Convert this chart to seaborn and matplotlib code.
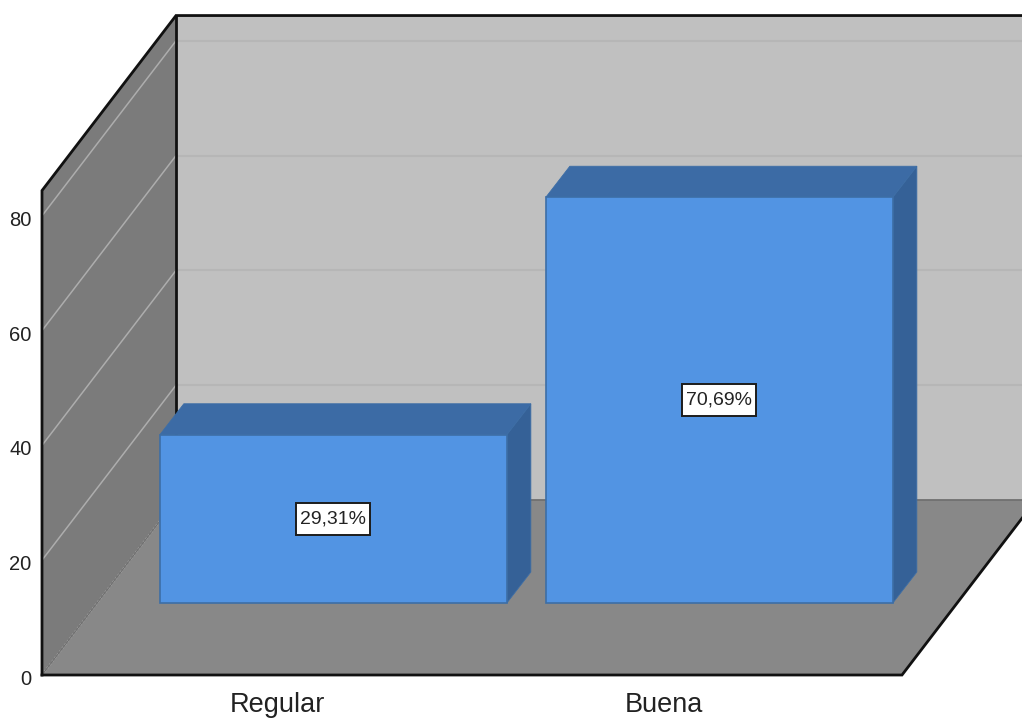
import matplotlib
matplotlib.use("Agg")
import matplotlib.pyplot as plt
from matplotlib.patches import Polygon
from matplotlib.path import Path
from matplotlib.transforms import ScaledTranslation
import seaborn as sns

categories = ["Regular", "Buena"]
percentages = [29.31, 70.69]
y_ticks = [0, 20, 40, 60, 80]

sns.set_theme(style="white")
plt.rcParams["font.family"] = ["Liberation Sans", "DejaVu Sans"]

W, H = 1022, 720
PX_PER_UNIT = 5.74        # vertical pixels per percentage point
Y_MAX = 84.4
CATEGORY_STEP = 386       # pixels between category centres
X_LIM = (-0.611, 1.617)

# Chart box corners in pixels
LEFT, RIGHT, BASE = 42, 902, 675
BOX_DX, BOX_DY = 134, 175  # receding edge of the floor
BAR_SHIFT = (55.5, 72)     # how far the bars sit behind the front plane
BAR_DEPTH = (24, 31)       # extrusion of each bar

WALL_SIDE = "#7b7b7b"
WALL_BACK = "#c0c0c0"
FLOOR = "#888888"
BAR_FRONT = "#5294e3"
BAR_TOP = "#3c6ba5"
BAR_SIDE = "#356197"
BAR_EDGE = "#3d6ea6"
INK = "#111111"


def inset(left, bottom_px, right, height):
    """Axes rectangle from pixel positions measured from the top-left corner."""
    return [left / W, (H - bottom_px) / H, (right - left) / W, height / H]


def label_box(x0, y0, width, height, mutation_size):
    """Label frame that is roomier vertically than horizontally."""
    pad_x, pad_y = 0.21 * mutation_size, 0.4 * mutation_size
    xa, xb = x0 - pad_x, x0 + width + pad_x
    ya, yb = y0 - pad_y, y0 + height + pad_y
    return Path([(xa, ya), (xb, ya), (xb, yb), (xa, yb), (xa, ya)], closed=True)


fig = plt.figure(figsize=(W / 100, H / 100), dpi=100, facecolor="white")

# Walls and floor, in pixel coordinates
scene = fig.add_axes([0, 0, 1, 1])
scene.set_xlim(0, W)
scene.set_ylim(H, 0)
scene.axis("off")

wall_top = BASE - Y_MAX * PX_PER_UNIT
back_l, back_r = LEFT + BOX_DX, RIGHT + BOX_DX
back_base, back_top = BASE - BOX_DY, wall_top - BOX_DY

scene.add_patch(Polygon([(LEFT, wall_top), (back_l, back_top), (back_l, back_base), (LEFT, BASE)],
                        fc=WALL_SIDE, ec="none"))
scene.add_patch(Polygon([(back_l, back_top), (back_r, back_top), (back_r, back_base), (back_l, back_base)],
                        fc=WALL_BACK, ec="none"))
scene.add_patch(Polygon([(LEFT, BASE), (RIGHT, BASE), (back_r, back_base), (back_l, back_base)],
                        fc=FLOOR, ec="none"))

# Gridlines run along the side wall and across the back wall
for tick in y_ticks[1:]:
    y = BASE - tick * PX_PER_UNIT
    scene.plot([LEFT, back_l], [y, y - BOX_DY], color="#adadad", lw=1.1, solid_capstyle="butt")
    scene.plot([back_l, back_r], [y - BOX_DY, y - BOX_DY], color="#b6b6b6", lw=1.5)

# Seams between floor and walls
scene.plot([LEFT, back_l], [BASE, back_base], color="#a0a0a0", lw=1.5, ls=(0, (1, 1)))
scene.plot([LEFT, back_l], [BASE, back_base], color="#666666", lw=0.6)
scene.plot([back_l, back_r], [back_base, back_base], color="#707070", lw=1.3)

# Box outline
outline = dict(color=INK, lw=2.0, solid_joinstyle="miter", solid_capstyle="projecting")
scene.plot([LEFT, LEFT, back_l, back_r], [BASE, wall_top, back_top, back_top], **outline)
scene.plot([back_l, back_l], [back_top, back_base], **outline)
scene.plot([LEFT, RIGHT, back_r], [BASE, BASE, back_base], **outline)

# Front plane carries the tick labels
front = fig.add_axes(inset(LEFT, BASE, RIGHT, Y_MAX * PX_PER_UNIT), facecolor="none")
front.set_xlim(*X_LIM)
front.set_ylim(0, Y_MAX)
front.set_xticks(range(len(categories)), categories)
front.set_yticks(y_ticks)
front.tick_params(axis="y", length=0, pad=7.5, labelsize=14.5, labelcolor="#222222")
front.tick_params(axis="x", length=0, pad=12, labelsize=19.5, labelcolor="#222222")
nudge = ScaledTranslation(0, -2.5 / 100, fig.dpi_scale_trans)
for label in front.get_yticklabels():
    label.set_transform(label.get_transform() + nudge)
sns.despine(ax=front, left=True, bottom=True)

# Bars stand further back, on the floor
bars = fig.add_axes(inset(LEFT + BAR_SHIFT[0], BASE - BAR_SHIFT[1], RIGHT + BAR_SHIFT[0], Y_MAX * PX_PER_UNIT),
                    facecolor="none")
sns.barplot(x=categories, y=percentages, width=0.899, color=BAR_FRONT, saturation=1,
            edgecolor=BAR_EDGE, linewidth=1.2, ax=bars, zorder=3)
bars.set_xlim(*X_LIM)
bars.set_ylim(0, Y_MAX)
bars.axis("off")

# Extrude each bar: top and right faces follow its own geometry
dx = BAR_DEPTH[0] / CATEGORY_STEP
dy = BAR_DEPTH[1] / PX_PER_UNIT
for patch in bars.containers[0]:
    patch.set_clip_on(False)
    x0, x1 = patch.get_x(), patch.get_x() + patch.get_width()
    top = patch.get_height()
    bars.add_patch(Polygon([(x0, top), (x1, top), (x1 + dx, top + dy), (x0 + dx, top + dy)],
                           fc=BAR_TOP, ec=BAR_EDGE, lw=0.6, clip_on=False, zorder=2))
    bars.add_patch(Polygon([(x1, 0), (x1 + dx, dy), (x1 + dx, top + dy), (x1, top)],
                           fc=BAR_SIDE, ec=BAR_EDGE, lw=0.6, clip_on=False, zorder=2))

bar_texts = bars.bar_label(bars.containers[0],
                           labels=[f"{v:.2f}%".replace(".", ",") for v in percentages],
                           label_type="center", fontsize=14, color="#222222", zorder=5,
                           bbox=dict(boxstyle=label_box, fc="white", ec="#1c1c1c", lw=1.4))

fig.savefig("out.png", dpi=100)
